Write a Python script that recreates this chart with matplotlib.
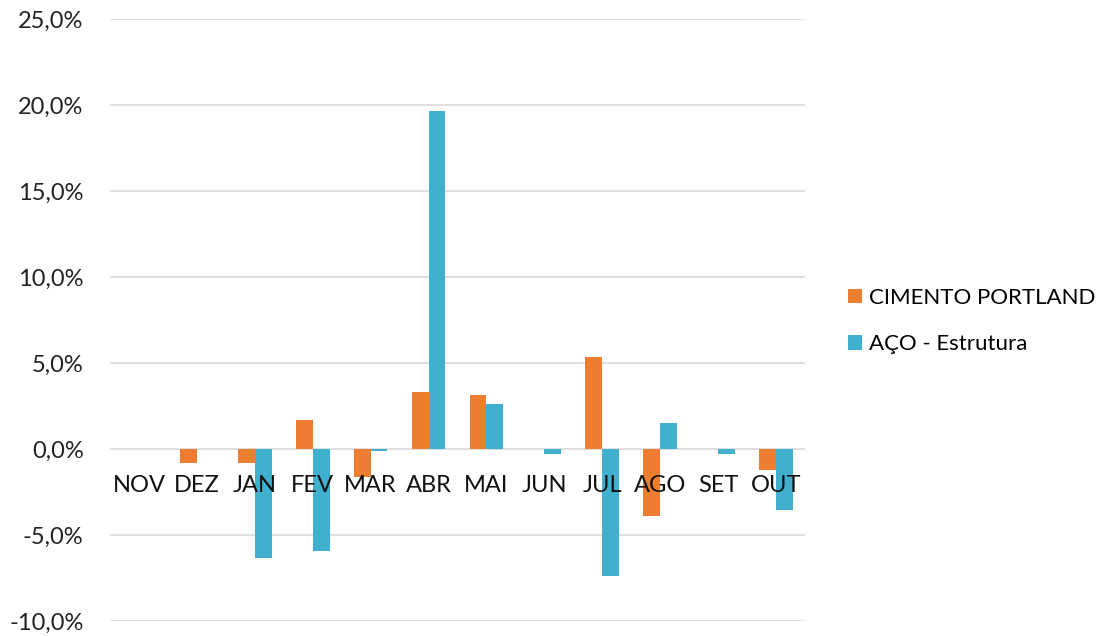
import matplotlib
matplotlib.use("Agg")
import matplotlib.pyplot as plt
import matplotlib.ticker as mticker
import matplotlib.transforms as mtransforms
import numpy as np

plt.rcParams['font.family'] = ['Lato', 'DejaVu Sans']

months = ["NOV", "DEZ", "JAN", "FEV", "MAR", "ABR", "MAI", "JUN", "JUL", "AGO", "SET", "OUT"]
cimento = [0.0, -0.8, -0.8, 1.66, -1.6, 3.33, 3.12, 0.0, 5.37, -3.9, 0.0, -1.22]
aco = [0.0, 0.0, -6.34, -5.93, -0.1, 19.65, 2.63, -0.3, -7.4, 1.51, -0.3, -3.56]

orange = "#ED7D31"
blue = "#41B0CE"

fig = plt.figure(figsize=(11.05, 6.36), dpi=100)
ax = fig.add_axes([110 / 1105, 1 - 621 / 636, 695 / 1105, 602 / 636])

x = np.arange(len(months))
w = 0.29
ax.bar(x - w / 2, cimento, w, color=orange, edgecolor="none",
       label="CIMENTO PORTLAND", zorder=3)
ax.bar(x + w / 2, aco, w, color=blue, edgecolor="none",
       label="AÇO - Estrutura", zorder=3)

ax.set_xlim(-0.5, len(months) - 0.5)
ax.set_ylim(-10, 25)
ax.set_yticks(np.arange(-10, 26, 5))
ax.yaxis.set_major_formatter(mticker.FuncFormatter(lambda v, _: f"{v:.1f}%".replace(".", ",")))
ax.tick_params(axis='y', length=0, pad=19, labelsize=17, labelcolor="#222222")
ax.set_xticks([])
ax.grid(axis='y', color="#d9d9d9", linewidth=1.2, zorder=0)
for s in ax.spines.values():
    s.set_visible(False)

# category labels sit just under the zero line
offset = mtransforms.offset_copy(ax.transData, fig=fig, x=0, y=-26, units='dots')
for i, m in enumerate(months):
    ax.text(i, 0, m, transform=offset, ha='center', va='top', fontsize=17, color="#111111")

fig.legend(loc="center left", bbox_to_anchor=(841 / 1105, 1 - 321 / 636), frameon=False,
           fontsize=16, handlelength=0.63, handleheight=0.63, labelspacing=1.18,
           handletextpad=0.35, borderaxespad=0, borderpad=0.3)

fig.savefig("out.png", dpi=100)
